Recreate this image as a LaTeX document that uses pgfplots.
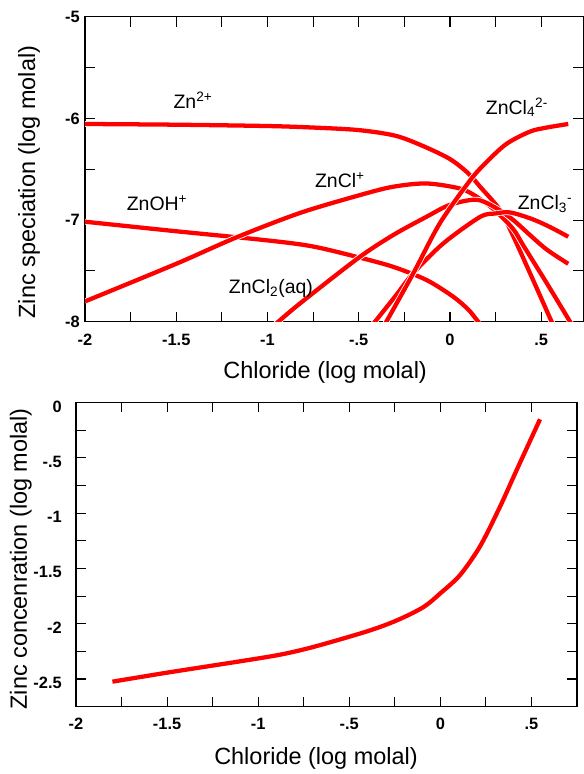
\documentclass[border=0pt]{standalone}
\usepackage{fontspec}
\setmainfont{Liberation Sans}
\usepackage{pgfplots}
\pgfplotsset{compat=1.18}
\definecolor{zred}{RGB}{255,0,0}
\pgfplotsset{
  myaxis/.style={
    scale only axis,
    axis line style={line width=0.9pt, black},
    every tick/.style={line width=0.8pt, black},
    major tick length=7.5pt, minor tick length=7.5pt,
    tick align=inside,
    xticklabel style={font=\bfseries\fontsize{12.3}{14}\selectfont, inner sep=0pt, anchor=north},
    yticklabel style={font=\bfseries\fontsize{12.3}{14}\selectfont, inner sep=0pt, anchor=east},
    label style={font=\fontsize{17.6}{20}\selectfont},
  },
  zn/.style={draw=zred, line width=3.2pt, preaction={draw=white, line width=4.4pt}, mark=none, smooth, tension=0.5},
}
\tikzset{lab/.style={font=\fontsize{14.6}{17}\selectfont, anchor=base, inner sep=0pt}}
\begin{document}
\begin{tikzpicture}
\path[use as bounding box] (0pt,0pt) rectangle (437.25pt,-580.5pt);
% ---------------- top panel ----------------
\begin{axis}[myaxis,
  at={(63.75pt,-241.3pt)}, anchor=south west,
  width=373.65pt, height=228.75pt,
  xmin=-2, xmax=0.73, ymin=-8, ymax=-5,
  xtick={-2,-1.5,-1,-0.5,0,0.5}, xticklabels={-2,-1.5,-1,-.5,0,.5},
  minor xtick={-1.75,-1.25,-0.75,-0.25,0.25},
  ytick={-8,-7,-6,-5}, yticklabels={-8,-7,-6,-5},
  minor ytick={-7.5,-6.5,-5.5},
  xticklabel style={yshift=-9.2pt},
  yticklabel style={xshift=-3.75pt},
  xlabel={Chloride (log molal)},
  ylabel={Zinc speciation (log molal)},
  xlabel style={at={(axis description cs:0.482,-0.167)}, anchor=center},
  ylabel style={at={(axis description cs:-0.1125,0.458)}, anchor=center},
]
% Zn2+
\addplot[zn] coordinates {(-2,-6.055) (-1.5,-6.062) (-1,-6.075) (-0.75,-6.09) (-0.5,-6.115) (-0.3,-6.17) (-0.15,-6.27) (0,-6.40) (0.1,-6.54) (0.164,-6.67) (0.274,-6.90) (0.347,-7.16) (0.438,-7.52) (0.557,-8.0) (0.575,-8.07)};
% ZnOH+
\addplot[zn] coordinates {(-2,-7.016) (-1.5,-7.11) (-1,-7.20) (-0.75,-7.26) (-0.493,-7.37) (-0.311,-7.46) (-0.128,-7.59) (0.018,-7.754) (0.1,-7.88) (0.146,-7.98) (0.16,-8.01)};
% ZnCl+
\addplot[zn] coordinates {(-2,-7.80) (-1.5,-7.43) (-1.17,-7.17) (-0.822,-6.93) (-0.493,-6.754) (-0.311,-6.672) (-0.128,-6.64) (0.055,-6.69) (0.146,-6.77) (0.25,-6.91) (0.347,-7.09) (0.402,-7.25) (0.53,-7.62) (0.648,-7.97) (0.66,-8.01)};
% ZnCl2(aq)
\addplot[zn] coordinates {(-0.96,-8.03) (-0.822,-7.82) (-0.5,-7.37) (-0.311,-7.147) (-0.128,-6.967) (0,-6.85) (0.146,-6.80) (0.256,-6.885) (0.347,-7.0) (0.438,-7.147) (0.53,-7.29) (0.648,-7.43)};
% ZnCl3-
\addplot[zn] coordinates {(-0.42,-8.02) (-0.3,-7.75) (-0.2,-7.52) (-0.037,-7.23) (0.164,-6.97) (0.25,-6.935) (0.33,-6.925) (0.45,-6.99) (0.55,-7.07) (0.648,-7.164)};
% ZnCl4 2-
\addplot[zn] coordinates {(-0.355,-8.02) (-0.2,-7.52) (-0.055,-7.03) (0.11,-6.61) (0.2,-6.43) (0.31,-6.25) (0.438,-6.13) (0.53,-6.09) (0.648,-6.055)};
\node[lab] at (axis cs:-1.408,-5.90) {Zn\textsuperscript{2+}};
\node[lab] at (axis cs:-1.605,-6.91) {ZnOH\textsuperscript{+}};
\node[lab] at (axis cs:-0.981,-7.72) {ZnCl\textsubscript{2}(aq)};
\node[lab] at (axis cs:-0.603,-6.678) {ZnCl\textsuperscript{+}};
\node[lab] at (axis cs:0.367,-5.957) {ZnCl\textsubscript{4}\textsuperscript{2-}};
\node[lab] at (axis cs:0.521,-6.90) {ZnCl\textsubscript{3}\textsuperscript{-}};
\end{axis}
% ---------------- bottom panel ----------------
\begin{axis}[myaxis,
  at={(57pt,-530pt)}, anchor=south west,
  width=375.75pt, height=228.15pt,
  xmin=-2, xmax=0.75, ymin=-2.75, ymax=0,
  xtick={-2,-1.5,-1,-0.5,0,0.5}, xticklabels={-2,-1.5,-1,-.5,0,.5},
  minor xtick={-1.75,-1.25,-0.75,-0.25,0.25},
  ytick={-2.5,-2,-1.5,-1,-0.5,0}, yticklabels={-2.5,-2,-1.5,-1,-.5,0},
  minor ytick={-2.25,-1.75,-1.25,-0.75,-0.25},
  xticklabel style={yshift=-8.1pt},
  yticklabel style={xshift=-10.5pt, yshift=-3pt},
  xlabel={Chloride (log molal)},
  ylabel={Zinc concenration (log molal)},
  xlabel style={at={(axis description cs:0.479,-0.171)}, anchor=center},
  ylabel style={at={(axis description cs:-0.11,0.486)}, anchor=center},
]
\addplot[zn] coordinates {(-1.80,-2.524) (-1.502,-2.443) (-1.10,-2.34) (-0.88,-2.28) (-0.697,-2.21) (-0.404,-2.07) (-0.239,-1.97) (-0.093,-1.85) (0.0,-1.725) (0.108,-1.56) (0.218,-1.30) (0.328,-0.94) (0.419,-0.61) (0.547,-0.152)};
\end{axis}
\end{tikzpicture}
\end{document}
